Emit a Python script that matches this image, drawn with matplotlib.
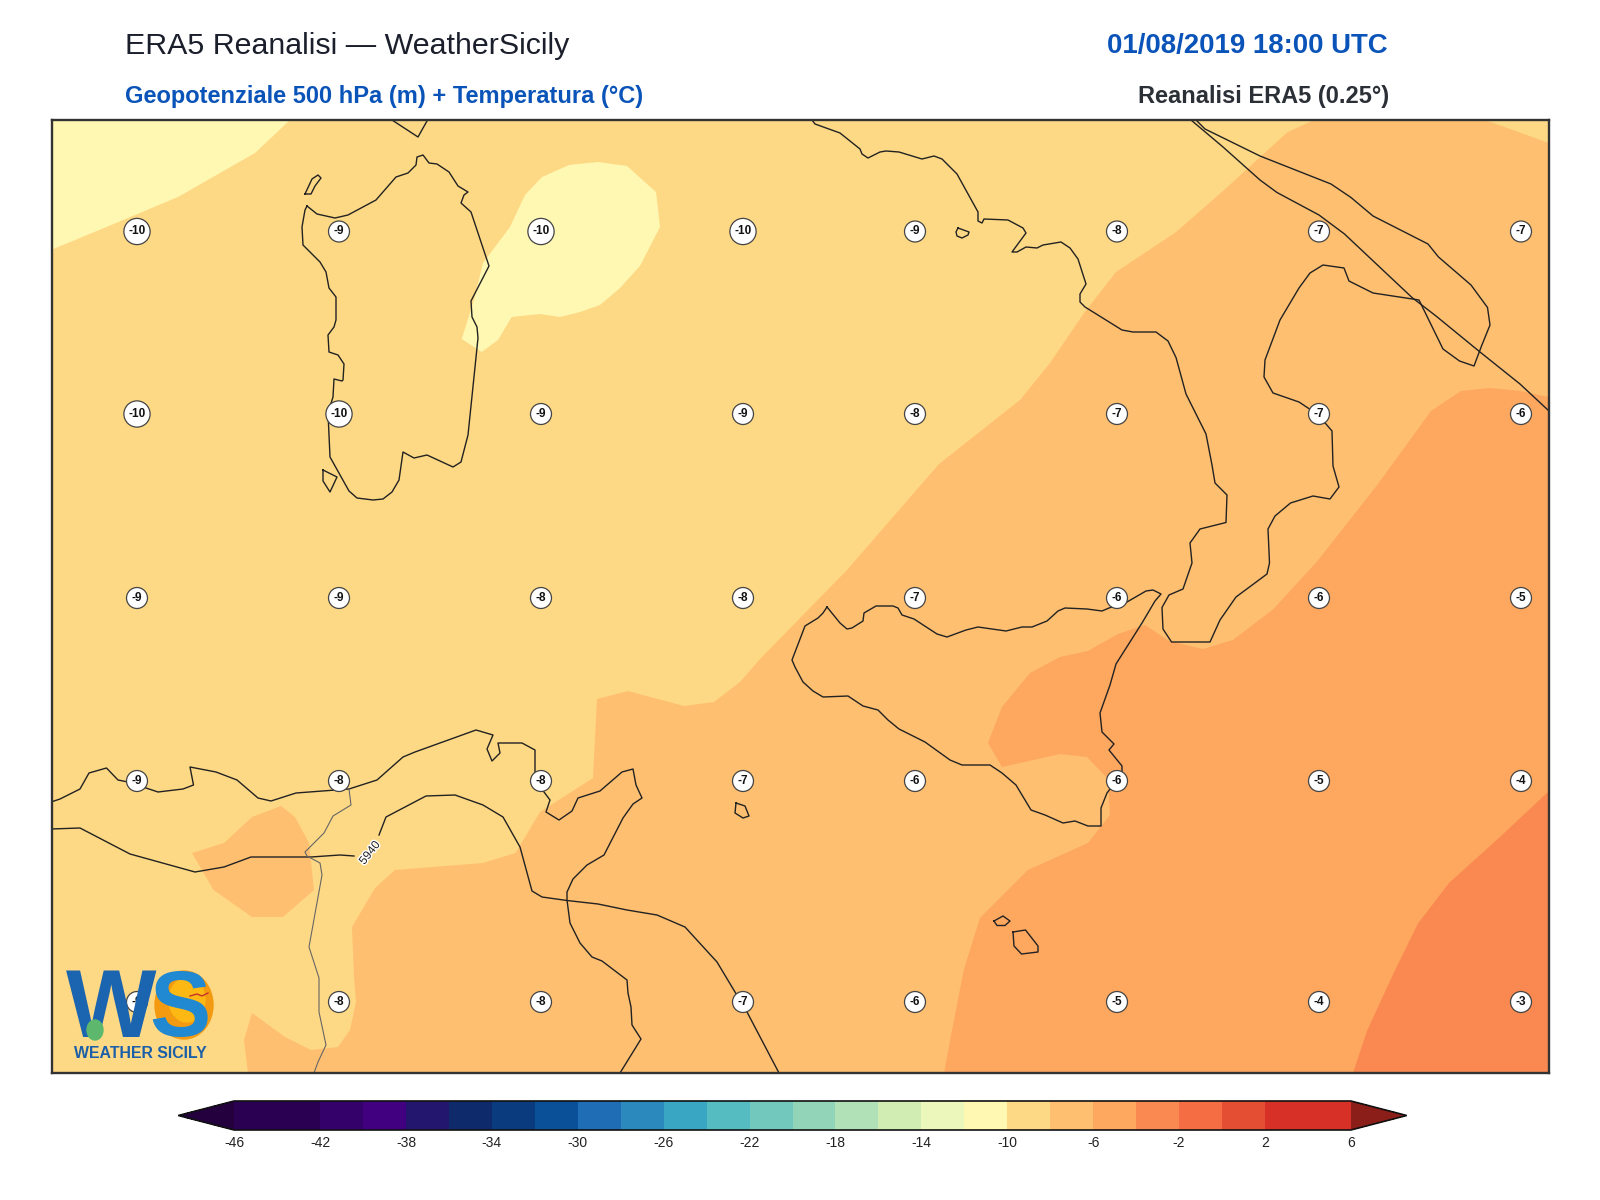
import numpy as np
import matplotlib
matplotlib.use("Agg")
import matplotlib.pyplot as plt
import matplotlib.patheffects as pe
from matplotlib.cm import ScalarMappable
from matplotlib.colors import BoundaryNorm, ListedColormap
from matplotlib.patches import Ellipse

plt.rcParams["font.family"] = ["Liberation Sans", "DejaVu Sans"]
plt.rcParams["axes.unicode_minus"] = False

# colour scale
levels = list(range(-46, 8, 2))
cbar_ticks = list(range(-46, 10, 4))
band_colors = [
    "#2A0052", "#2A0052", "#34006A", "#400080", "#23166F", "#0E2A6B", "#0B3B7F",
    "#0A5098", "#1E6DB5", "#2B89BD", "#39A7C3", "#55BCC2", "#72C8BC", "#91D4B7",
    "#B1E1B6", "#D2EDB4", "#EBF7BB", "#FFF8B3", "#FED985", "#FEBF71", "#FDA75F",
    "#F98950", "#F46D43", "#E44F33", "#D73027", "#D73027",
]

# map extent, in the map units the shapes below were read in
map_xlim = (51.5, 1549)
map_ylim = (1073, 120)

# temperature station labels
temp_x = [137, 339, 541, 743, 915, 1117, 1319, 1521]
temp_y = [231.5, 414, 598, 781, 1002]
temp_rows = [
    [-10, -9, -10, -10, -9, -8, -7, -7],
    [-10, -10, -9, -9, -8, -7, -7, -6],
    [-9, -9, -8, -8, -7, -6, -6, -5],
    [-9, -8, -8, -7, -6, -6, -5, -4],
    [-9, -8, -8, -7, -6, -5, -4, -3],
]

# filled temperature areas (value inside each band, outline)
cold_nw = [(51, 120), (290, 120), (255, 153), (178.6, 196.7), (116, 223), (51, 250)]
cold_tyrrhenian = [
    (461.7, 339), (481.7, 352), (498, 340), (511.7, 317), (540, 314), (560, 317), (580, 312),
    (600, 305), (620, 288), (640, 266), (660, 227), (656, 192), (627, 166), (598, 162),
    (569, 165), (542, 177), (525, 195), (510, 227), (483, 263), (474, 300),
]
warm_main = [
    (1314, 120), (1485, 120), (1549, 143), (1549, 1073), (248, 1073), (244, 1040), (252, 1013),
    (285, 1037), (311, 1050), (338, 1047), (350, 1030), (356, 1002), (354, 977), (352, 927),
    (375, 888), (395, 870), (483, 863), (515.5, 853), (540, 812), (593, 778), (597, 699),
    (628, 691), (684, 706), (714, 702), (740, 682), (760, 659), (847, 570), (939, 464),
    (1020, 400), (1050, 363), (1084, 313), (1116, 272), (1175.5, 232.5), (1223, 191), (1287, 132.5),
]
warm_blob = [
    (192, 853), (224, 843), (252, 817), (281, 806), (295, 817), (309, 843), (314, 890),
    (283, 917), (252, 917), (213.5, 890),
]
hot_main = [
    (1549, 397), (1520, 391), (1490, 388), (1461, 391), (1431, 411), (1378, 484), (1317.5, 561),
    (1273.5, 609), (1233, 640), (1203, 649), (1169, 641), (1145, 625), (1118, 634), (1088, 651),
    (1060, 657), (1030, 673), (1002, 707), (988, 743), (1002, 767), (1060, 754), (1087, 757),
    (1108, 779), (1110, 815), (1088, 843), (1028, 870), (980, 918), (964, 969), (954, 1020),
    (944, 1073), (1549, 1073),
]
hotter_se = [
    (1549, 791), (1500, 837), (1449, 883), (1418, 923.5), (1393, 974.5), (1367, 1031),
    (1353, 1073), (1549, 1073),
]
fill_bands = [
    (-11, cold_nw), (-11, cold_tyrrhenian), (-7, warm_main), (-7, warm_blob),
    (-5, hot_main), (-3, hotter_se),
]

# coastlines
sardinia = [
    (307, 206), (317, 214), (335, 218), (348, 215), (376, 200), (396, 177), (408, 173), (416, 165),
    (417, 157), (423, 155), (429, 163), (437, 164), (449, 172), (458, 186), (468, 192), (464, 195),
    (461, 203), (471, 212), (489, 266), (471, 301), (472, 317), (477, 327), (478, 338), (468, 435),
    (461, 462), (453, 467), (427, 455), (414, 458), (403, 452), (399, 480), (392, 492), (383, 499),
    (373, 500), (357, 498), (349, 491), (330, 457), (328, 413), (333, 397), (334, 379), (342, 381),
    (343, 380), (344, 364), (338, 355), (329, 352), (328, 335), (334, 327), (336, 320), (336, 297),
    (329, 288), (326, 272), (320, 262), (303, 245), (302, 227), (305, 210), (307, 206),
]
corsica_tip = [(392, 120), (418, 137), (427, 121)]
asinara = [(305, 194), (312, 179), (318, 175), (321, 178), (315, 186), (311, 194), (305, 194)]
antioco = [(323, 470), (337, 477), (330, 492), (323, 481), (323, 470)]
ischia = [(958, 228), (969, 232), (968, 235), (962, 238), (957, 236), (956, 232), (958, 228)]
sicily = [
    (827, 607), (840, 623), (847, 629), (852, 628), (863, 621), (864, 613), (876, 606), (893, 606),
    (898, 608), (902, 615), (914, 619), (937, 634), (947, 637), (966, 630), (978, 627), (1006, 631),
    (1022, 627), (1032, 627), (1047, 621), (1058, 611), (1065, 608), (1087, 609), (1102, 611),
    (1109, 608), (1127, 602), (1146, 591), (1153, 590), (1161, 594), (1155, 601), (1142, 623),
    (1116, 664), (1110, 685), (1100, 713), (1102, 732), (1114, 744), (1109, 750), (1122, 766),
    (1122, 773), (1107, 793), (1101, 808), (1101, 826), (1088, 826), (1075, 821), (1063, 823),
    (1045, 815), (1031, 810), (1016, 785), (1002, 773), (990, 765), (962, 765), (950, 760),
    (925, 742), (899, 729), (888, 720), (878, 710), (863, 706), (848, 696), (823, 697), (813, 691),
    (803, 682), (795, 667), (792, 660), (805, 626), (818, 618), (823, 613), (827, 607),
]
italy = [
    (812, 120), (815, 124), (840, 133), (860, 149), (862, 154), (868, 158), (880, 152), (886, 151),
    (899, 152), (922, 159), (934, 156), (942, 159), (957, 174), (978, 212), (978, 221), (982, 223),
    (984, 219), (1008, 220), (1023, 228), (1026, 233), (1012, 252), (1017, 252), (1026, 247),
    (1037, 248), (1043, 245), (1061, 242), (1070, 248), (1078, 259), (1086, 284), (1080, 294),
    (1080, 302), (1085, 307), (1122, 330), (1133, 332), (1156, 332), (1168, 341), (1176, 357.5),
    (1186, 394), (1206, 434), (1212, 465), (1215, 483), (1227, 495), (1226, 522.5), (1200, 529),
    (1190, 543), (1192, 563), (1183, 589), (1169, 595), (1162, 607.5), (1163, 629), (1171.5, 642),
    (1210, 642), (1220, 620), (1236, 597), (1267, 574), (1269.5, 563), (1268, 529), (1275, 516),
    (1290.5, 503), (1313, 496), (1330, 499), (1339, 487), (1333, 466), (1332, 431), (1326, 424),
    (1311, 410), (1299, 402), (1273, 393), (1264, 377), (1265, 360), (1280, 320), (1299, 288),
    (1310, 273), (1323, 265), (1344, 268), (1349, 281), (1373, 293), (1419, 300), (1443, 349),
    (1459.5, 361), (1474, 366), (1481.5, 346), (1490, 325), (1487.5, 307.5), (1471, 285),
    (1438.5, 257), (1428, 244), (1373, 216), (1351, 197.5), (1331, 184), (1260, 156), (1205, 129),
    (1196, 120),
]
africa_north = [
    (51, 802), (60, 799), (80, 789), (89, 773), (106.5, 768), (118, 780), (128, 782), (146, 788),
    (158, 792), (183, 789), (193.5, 785), (190, 767), (216, 772), (237, 780), (258, 798), (271, 801),
    (296, 793), (349, 789), (377, 780), (403, 757), (415, 752), (476, 730), (493, 735), (487, 749),
    (492, 761), (500, 753), (498, 743), (522, 743), (535, 750), (535, 782), (544, 792), (550, 800),
    (546, 812), (559, 820), (572, 811), (578, 798), (600, 791), (622, 772), (633, 769), (636, 785),
    (642, 798), (633, 804), (623, 818), (604, 855), (587, 865), (573, 879), (567, 892), (567, 900),
    (570, 923), (580, 943), (592, 957), (602, 961), (627, 980), (628, 993), (631, 1007), (632, 1025),
    (641, 1039), (620, 1073),
]
pantelleria = [(736, 803), (745, 806), (749, 816), (743, 818), (735, 813), (736, 803)]
gozo = [(994, 921), (1003, 916), (1010, 921), (1005, 925.5), (997, 925.5), (994, 921)]
malta = [(1013, 932), (1025.5, 930), (1038, 946), (1038, 952), (1021.5, 954), (1014, 946), (1013, 932)]
coast_lines = [
    sardinia, corsica_tip, asinara, antioco, ischia, sicily, italy, africa_north,
    pantelleria, gozo, malta,
]

# land border, thin and grey
border_line = [
    (349, 789), (351, 805), (333, 816), (324, 833), (305, 852), (307, 856), (320, 863), (322, 875),
    (309, 947), (319, 978), (319, 1012), (326, 1045), (318, 1062), (314, 1073),
]

# 5940 m geopotential contour
geo_south_a = [
    (51, 829), (80, 828), (130, 854), (195, 872), (224, 867), (251, 857), (311, 857), (340, 855),
    (354, 856),
]
geo_south_b = [
    (379, 835), (386, 817), (426, 796), (455, 795), (483, 805), (503, 817), (520, 847), (532, 891),
    (542, 897), (567, 900.5), (598, 904), (627, 910), (657, 915), (685, 927), (717, 962), (735, 992),
    (747, 1012), (779, 1073),
]
geo_north = [
    (1191, 120), (1223, 147), (1260, 180), (1277, 192.5), (1319, 215), (1344.5, 234), (1412, 297.5),
    (1436, 316), (1480, 352), (1520, 384), (1549, 411),
]
geo_lines = [geo_south_a, geo_south_b, geo_north]
geo_label = "5940"
geo_label_pos = (370, 853)

cmap = ListedColormap(band_colors)
cmap.set_under("#24003F")
cmap.set_over("#8B1E18")
norm = BoundaryNorm(levels, cmap.N)

fig = plt.figure(figsize=(16, 12), dpi=100)
ax = fig.add_axes([51.5 / 1600, 1 - 1073 / 1200, 1497.5 / 1600, 953 / 1200])
ax.set_facecolor(cmap(norm(-9)))
ax.set_xlim(*map_xlim)
ax.set_ylim(*map_ylim)
ax.set_xticks([])
ax.set_yticks([])
for s in ax.spines.values():
    s.set_linewidth(1.7)
    s.set_color("#333333")

for temp, shape in fill_bands:
    xs, ys = zip(*shape)
    ax.fill(xs, ys, color=cmap(norm(temp)), lw=0, zorder=1)

for shape in coast_lines:
    xs, ys = zip(*shape)
    ax.plot(xs, ys, color="#222222", lw=1.0, zorder=2)
for shape in geo_lines:
    xs, ys = zip(*shape)
    ax.plot(xs, ys, color="#222222", lw=1.0, zorder=2)
xs, ys = zip(*border_line)
ax.plot(xs, ys, color="#666666", lw=0.8, zorder=2)

ax.text(*geo_label_pos, geo_label, fontsize=8.5, color="#222222", rotation=52,
        ha="center", va="center", zorder=3,
        path_effects=[pe.withStroke(linewidth=2, foreground="white")])

for yy, row in zip(temp_y, temp_rows):
    for xx, val in zip(temp_x, row):
        ax.text(xx, yy, str(val), fontsize=8.5, fontweight="bold", color="#111111",
                ha="center", va="center", zorder=4,
                bbox=dict(boxstyle="circle,pad=0.38", fc="white", ec="#444444", lw=0.9))

# logo
ax.add_patch(Ellipse((184, 1005), 58, 68, color="#F39A10", zorder=5))
ax.add_patch(Ellipse((187, 1000), 36, 44, color="#FDB813", zorder=5))
ax.text(111, 1012, "W", fontsize=69, fontweight="bold", color="#1B64B0",
        ha="center", va="center", zorder=6)
ax.text(180, 1012, "S", fontsize=66, fontweight="bold", color="#2188D2",
        ha="center", va="center", zorder=6)
ax.add_patch(Ellipse((95, 1030), 16, 20, color="#5DB86E", zorder=7))
ax.plot([190, 197, 202, 208], [996, 994, 996, 993], color="#C8302A", lw=1, zorder=7)
ax.text(140, 1053, "WEATHER SICILY", fontsize=11.4, fontweight="bold", color="#1A5FA8",
        ha="center", va="center", zorder=6)

# colour bar, the axes span from tip to tip of the extensions
cax = fig.add_axes([178.3 / 1600, 1 - 1130 / 1200, 1228.4 / 1600, 29 / 1200])
cb = fig.colorbar(ScalarMappable(norm=norm, cmap=cmap), cax=cax, orientation="horizontal",
                  extend="both", extendfrac=0.05, spacing="uniform", ticks=cbar_ticks)
cb.ax.minorticks_off()
cb.ax.tick_params(which="both", length=0, labelsize=10, pad=4, labelcolor="#222222")
cb.ax.set_xticklabels([str(t) for t in cbar_ticks])
cb.outline.set_linewidth(1.2)
cb.outline.set_edgecolor("#111111")

# titles
fig.text(125 / 1600, 1 - 46 / 1200, "ERA5 Reanalisi \u2014 WeatherSicily", fontsize=21.9,
         color="#1A1F2B", ha="left", va="center")
fig.text(125 / 1600, 1 - 97 / 1200, "Geopotenziale 500 hPa (m) + Temperatura (\u00b0C)",
         fontsize=17, fontweight="bold", color="#0A53B8", ha="left", va="center")
fig.text(1388 / 1600, 1 - 46 / 1200, "01/08/2019 18:00 UTC", fontsize=19.9, fontweight="bold",
         color="#0A53B8", ha="right", va="center")
fig.text(1389 / 1600, 1 - 97 / 1200, "Reanalisi ERA5 (0.25\u00b0)", fontsize=17, fontweight="bold",
         color="#2B2F36", ha="right", va="center")

fig.savefig("out.png", dpi=100)
